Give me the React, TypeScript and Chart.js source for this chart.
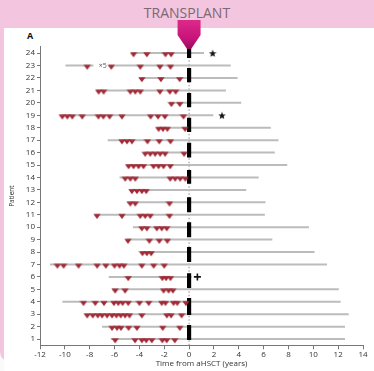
import React, { useEffect, useRef } from 'react';
import { Chart, registerables } from 'chart.js';

Chart.register(...registerables);

// ---------- data ----------
const patients: number[] = [1, 2, 3, 4, 5, 6, 7, 8, 9, 10, 11, 12, 13, 14, 15, 16, 17, 18, 19, 20, 21, 22, 23, 24];

// follow-up line start / end (years from aHSCT), one per patient
const followStart: number[] = [-6.3, -7.0, -8.4, -10.2, -6.2, -6.47, -11.2, -3.95, -5.0, -4.52, -7.55, -5.0, -4.73, -5.6, -5.0, -3.6, -6.55, -2.55, -10.4, -1.6, -7.45, -3.9, -9.95, -4.6];
const followEnd: number[] = [12.55, 12.55, 12.85, 12.2, 12.05, 0.2, 11.1, 10.1, 6.7, 9.65, 6.1, 6.15, 4.6, 5.6, 7.9, 6.9, 7.2, 6.58, 1.95, 4.2, 2.97, 3.9, 3.35, 1.2];

// interruption in a follow-up line
const gapPatients: number[] = [23];
const gapFrom: number[] = [-7.7];
const gapTo: number[] = [-6.45];

// relapses (years from aHSCT), per patient 1..24
const relapseTimes: number[][] = [
  [-5.95, -4.35, -3.8, -3.45, -3.0, -2.15, -1.8, -1.15],
  [-6.2, -5.8, -5.48, -4.87, -4.2, -2.12, -0.75],
  [-8.2, -7.75, -7.35, -7.0, -6.6, -6.2, -5.85, -5.5, -5.15, -4.8, -3.8, -1.79, -1.45, -0.6],
  [-8.5, -7.55, -6.85, -6.05, -5.7, -5.35, -4.9, -4.0, -3.25, -2.2, -1.9, -1.25, -0.95, -0.25],
  [-5.95, -5.15, -2.05, -1.65, -1.3],
  [-4.9, -2.15, -1.85, -1.5],
  [-10.6, -10.1, -8.9, -7.4, -6.7, -6.0, -5.6, -5.25, -3.8, -2.85, -2.0],
  [-3.75, -3.4, -3.05],
  [-4.92, -3.2, -2.4, -1.75],
  [-3.8, -3.4, -2.6, -2.2, -1.8],
  [-7.41, -5.4, -3.93, -3.53, -3.13, -1.58],
  [-4.73, -4.33, -1.58],
  [-4.6, -4.2, -3.8, -3.45],
  [-5.14, -4.73, -4.33, -1.52, -1.12, -0.72, -0.3],
  [-4.87, -4.47, -4.07, -3.67, -2.86, -2.46, -2.06, -1.52],
  [-3.53, -3.13, -2.73, -2.33, -1.93, -0.4],
  [-5.4, -5.0, -4.6, -3.35, -2.4, -1.5],
  [-2.45, -2.1, -1.75, -0.32],
  [-10.2, -9.8, -9.4, -8.6, -7.3, -6.9, -6.4, -5.4, -3.1, -2.5, -1.95, -0.45],
  [-1.42, -0.75],
  [-7.28, -6.88, -4.73, -4.33, -3.93, -2.35, -1.55, -1.08],
  [-3.8, -2.27, -0.76],
  [-8.2, -6.26, -3.93, -2.35, -1.5],
  [-4.47, -3.4, -1.9, -1.45],
];

// black transplant bars (patient axis units)
const barFrom: number[] = [0.92, 2.93, 5.1, 7.2, 9.2, 11.2, 13.5, 15.6, 17.65, 19.65, 21.65, 23.6];
const barTo: number[] = [2.13, 4.3, 6.3, 8.4, 10.4, 12.4, 14.6, 16.8, 18.8, 20.8, 22.8, 24.4];

// deaths (stars) and other mark (cross)
const starPatients: number[] = [24, 19];
const starTimes: number[] = [1.9, 2.65];
const crossPatients: number[] = [6];
const crossTimes: number[] = [0.67];

// annotation "×5"
const noteText = '×5';
const notePatient = 23;
const noteTime = -6.95;

const xTicks: number[] = [-12, -10, -8, -6, -4, -2, 0, 2, 4, 6, 8, 10, 12, 14];

const FONT = "'Open Sans', 'Liberation Sans', sans-serif";

function makeStar(size: number): HTMLCanvasElement {
  const c = document.createElement('canvas');
  c.width = size;
  c.height = size;
  const g = c.getContext('2d')!;
  g.fillStyle = '#111';
  g.beginPath();
  for (let k = 0; k < 10; k++) {
    const r = k % 2 === 0 ? size / 2 : size / 4.8;
    const a = -Math.PI / 2 + (k * Math.PI) / 5;
    g.lineTo(size / 2 + r * Math.cos(a), size / 2 + 0.6 + r * Math.sin(a));
  }
  g.closePath();
  g.fill();
  return c;
}

// downward triangle hanging below its point (flat top at the point's centre)
function makeHangingTriangle(): HTMLCanvasElement {
  const c = document.createElement('canvas');
  c.width = 8;
  c.height = 10;
  const g = c.getContext('2d')!;
  g.fillStyle = '#a02a36';
  g.beginPath();
  g.moveTo(0.3, 4.3);
  g.lineTo(7.7, 4.3);
  g.lineTo(4, 9.3);
  g.closePath();
  g.fill();
  return c;
}

const overlayPlugin = {
  id: 'overlay',
  afterDraw(chart: any) {
    const { ctx, chartArea, scales } = chart;
    const x = scales.x;
    const y = scales.y;
    // "×5" note
    ctx.save();
    ctx.font = `7px ${FONT}`;
    ctx.fillStyle = '#555';
    ctx.textAlign = 'center';
    ctx.textBaseline = 'middle';
    ctx.fillText(noteText, x.getPixelForValue(noteTime), y.getPixelForValue(notePatient));
    ctx.restore();
    // transplant arrow
    const cx = x.getPixelForValue(0);
    const top = chartArea.top - 27;
    const w = 11.5;
    ctx.save();
    const grad = ctx.createLinearGradient(0, top, 0, top + 31);
    grad.addColorStop(0, '#dc2a8a');
    grad.addColorStop(0.6, '#c8137a');
    grad.addColorStop(1, '#8e0c55');
    ctx.fillStyle = grad;
    ctx.beginPath();
    ctx.moveTo(cx - w, top);
    ctx.lineTo(cx + w, top);
    ctx.lineTo(cx + w, top + 15);
    ctx.lineTo(cx + 2, top + 29);
    ctx.lineTo(cx - 2, top + 29);
    ctx.lineTo(cx - w, top + 15);
    ctx.closePath();
    ctx.fill();
    ctx.restore();
  },
};

export default function App() {
  const ref = useRef<HTMLCanvasElement | null>(null);

  useEffect(() => {
    if (!ref.current) return;

    const lineData: any[] = [];
    patients.forEach((p, i) => {
      let segs: [number, number][] = [[followStart[i], followEnd[i]]];
      gapPatients.forEach((gp, g) => {
        if (gp !== p) return;
        const next: [number, number][] = [];
        segs.forEach(([a, b]) => {
          if (gapFrom[g] > a && gapTo[g] < b) {
            next.push([a, gapFrom[g]], [gapTo[g], b]);
          } else next.push([a, b]);
        });
        segs = next;
      });
      segs.forEach(([a, b]) => {
        lineData.push({ x: a, y: p }, { x: b, y: p }, { x: b, y: null });
      });
    });

    const barData: any[] = [];
    barFrom.forEach((f, i) => {
      barData.push({ x: 0, y: f }, { x: 0, y: barTo[i] }, { x: 0, y: null });
    });

    const relapseData: any[] = [];
    patients.forEach((p, i) => {
      relapseTimes[i].forEach((t) => relapseData.push({ x: t, y: p }));
    });

    const starData = starPatients.map((p, i) => ({ x: starTimes[i], y: p }));
    const crossData = crossPatients.map((p, i) => ({ x: crossTimes[i], y: p }));
    const star = makeStar(8);
    const tri = makeHangingTriangle();

    const chart = new Chart(ref.current, {
      type: 'scatter',
      data: {
        datasets: [
          {
            label: 'relapse',
            data: relapseData,
            pointStyle: tri,
            pointRadius: 4,
            order: 0,
          } as any,
          {
            label: 'death',
            data: starData,
            pointStyle: star,
            pointRadius: 4,
            order: 0,
          } as any,
          {
            label: 'other',
            data: crossData,
            pointStyle: 'cross',
            pointRadius: 3.5,
            borderColor: '#111',
            borderWidth: 1.6,
            order: 0,
          } as any,
          {
            type: 'line',
            label: 'transplant',
            data: barData,
            showLine: true,
            spanGaps: false,
            borderColor: '#000',
            borderWidth: 4.2,
            borderCapStyle: 'butt',
            pointRadius: 0,
            order: 1,
          } as any,
          {
            type: 'line',
            label: 'follow-up',
            data: lineData,
            showLine: true,
            spanGaps: false,
            borderColor: '#bcbcbc',
            borderWidth: 2,
            borderCapStyle: 'butt',
            pointRadius: 0,
            order: 2,
          } as any,
          {
            type: 'line',
            label: 'zero',
            data: [
              { x: 0, y: 0.5 },
              { x: 0, y: 24.5 },
            ],
            showLine: true,
            borderColor: '#8a8a8a',
            borderWidth: 1,
            borderDash: [1.5, 2],
            pointRadius: 0,
            order: 3,
          } as any,
        ],
      },
      options: {
        responsive: false,
        maintainAspectRatio: false,
        animation: false,
        events: [],
        layout: { padding: { left: 0, right: 11, top: 46.9, bottom: 0 } },
        plugins: { legend: { display: false }, tooltip: { enabled: false } },
        scales: {
          x: {
            type: 'linear',
            min: -12,
            max: 14,
            afterBuildTicks: (s: any) => {
              s.ticks = xTicks.map((v) => ({ value: v }));
            },
            afterFit: (s: any) => {
              s.height = 25.7;
            },
            ticks: { color: '#333', font: { size: 8, family: FONT }, padding: 1, maxRotation: 0, autoSkip: false },
            grid: { display: true, drawOnChartArea: false, drawTicks: true, tickLength: 4, tickColor: '#777' },
            border: { color: '#777', width: 1 },
            title: {
              display: true,
              text: 'Time from aHSCT (years)',
              color: '#333',
              font: { size: 8, family: FONT },
              padding: { top: 0, bottom: 2 },
            },
          },
          y: {
            type: 'linear',
            min: 0.5,
            max: 24.5,
            afterBuildTicks: (s: any) => {
              s.ticks = patients.map((v) => ({ value: v }));
            },
            afterFit: (s: any) => {
              s.width = 40;
            },
            ticks: { color: '#333', font: { size: 8, family: FONT }, padding: 2, autoSkip: false },
            grid: { display: true, drawOnChartArea: false, drawTicks: true, tickLength: 3, tickColor: '#777' },
            border: { color: '#777', width: 1 },
            title: {
              display: true,
              text: 'Patient',
              color: '#333',
              font: { size: 6.5, family: FONT },
              padding: { top: 8, bottom: 0 },
            },
          },
        },
      },
      plugins: [overlayPlugin],
    } as any);

    return () => chart.destroy();
  }, []);

  return (
    <div
      style={{
        position: 'fixed',
        left: 0,
        top: 0,
        width: 374,
        height: 371,
        background: '#fafafa',
        overflow: 'hidden',
      }}
    >
      <div
        style={{
          position: 'absolute',
          left: 0,
          top: 0,
          width: 374,
          height: 362,
          background: '#f3c5de',
          borderBottomLeftRadius: 10,
        }}
      />
      <div style={{ position: 'absolute', left: 4, top: 28, width: 370, height: 343, background: '#ffffff' }} />
      <div
        style={{
          position: 'absolute',
          left: 0,
          top: 5,
          width: 374,
          textAlign: 'center',
          fontFamily: FONT,
          fontSize: 14,
          lineHeight: '16px',
          color: '#7c6874',
        }}
      >
        TRANSPLANT
      </div>
      <div
        style={{
          position: 'absolute',
          left: 27,
          top: 31,
          fontFamily: FONT,
          fontSize: 9,
          fontWeight: 700,
          lineHeight: '10px',
          color: '#111',
        }}
      >
        A
      </div>
      <canvas ref={ref} width={374} height={371} style={{ position: 'absolute', left: 0, top: 0 }} />
    </div>
  );
}
